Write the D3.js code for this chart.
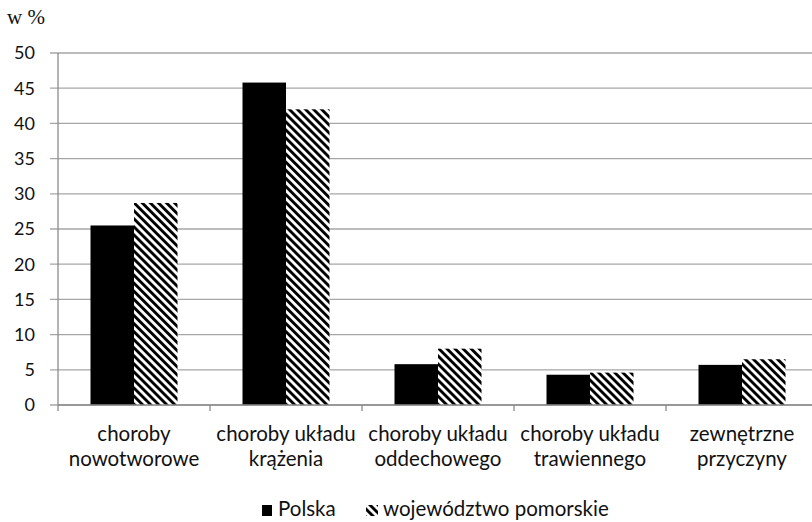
<!DOCTYPE html>
<html><head><meta charset="utf-8">
<script src="https://cdn.jsdelivr.net/npm/d3@7"></script>
<style>body{margin:0;background:#fff}</style>
</head><body>
<svg id="c" width="812" height="522"></svg>
<script>
const categories = [["choroby","nowotworowe"],["choroby układu","krążenia"],["choroby układu","oddechowego"],["choroby układu","trawiennego"],["zewnętrzne","przyczyny"]];
const seriesNames = ["Polska","województwo pomorskie"];
const polska = [25.5, 45.8, 5.8, 4.3, 5.7];
const pomorskie = [28.7, 42.0, 8.0, 4.6, 6.5];
const yTicks = [0,5,10,15,20,25,30,35,40,45,50];
const yUnit = "w %";

const svg = d3.select("#c");
const defs = svg.append("defs");
const pat = defs.append("pattern").attr("id","hatch").attr("patternUnits","userSpaceOnUse")
  .attr("width",5.7).attr("height",5.7).attr("patternTransform","rotate(-45)");
pat.append("rect").attr("width",5.7).attr("height",5.7).attr("fill","#fff");
pat.append("rect").attr("width",2.9).attr("height",5.7).attr("fill","#000");

const y = d3.scaleLinear().domain([0,50]).range([405,53]);
const x0 = d3.scaleBand().domain(d3.range(categories.length)).range([58,818]).padding(0);
const groupW = 87;
const x1 = d3.scaleBand().domain([0,1]).range([0,groupW]).padding(0);
const font = "Lato, 'Open Sans', sans-serif";

// gridlines
svg.append("g").selectAll("line").data(yTicks).join("line")
  .attr("x1",50).attr("x2",812).attr("y1",d=>y(d)).attr("y2",d=>y(d))
  .attr("stroke","#a6a6a6").attr("stroke-width",1.3);
// y labels
svg.append("g").selectAll("text").data(yTicks).join("text")
  .attr("x",35).attr("y",d=>y(d)).attr("dy","0.36em").attr("text-anchor","end")
  .attr("font-family",font).attr("font-size",18).attr("fill","#111")
  .text(d=>d);
svg.append("text").attr("x",7).attr("y",24).attr("font-family","'Liberation Serif', serif")
  .attr("font-size",21).attr("fill","#111").text(yUnit);

// bars
const data = categories.map((c,i)=>({i, vals:[polska[i], pomorskie[i]]}));
const g = svg.append("g").selectAll("g").data(data).join("g")
  .attr("transform",d=>`translate(${x0(d.i)+(x0.bandwidth()-groupW)/2},0)`);
g.selectAll("rect").data(d=>d.vals.map((v,k)=>({v,k}))).join("rect")
  .attr("x",d=>x1(d.k)).attr("width",x1.bandwidth())
  .attr("y",d=>y(d.v)).attr("height",d=>y(0)-y(d.v))
  .attr("fill",d=>d.k===0?"#000":"url(#hatch)");

// axes
svg.append("line").attr("x1",58).attr("x2",58).attr("y1",y(50)).attr("y2",y(0)+6).attr("stroke","#8c8c8c").attr("stroke-width",1.3);
svg.append("line").attr("x1",58).attr("x2",812).attr("y1",y(0)).attr("y2",y(0)).attr("stroke","#8c8c8c").attr("stroke-width",1.3);
svg.append("g").selectAll("line").data(d3.range(1,categories.length)).join("line")
  .attr("x1",d=>x0(d)).attr("x2",d=>x0(d)).attr("y1",y(0)).attr("y2",y(0)+6)
  .attr("stroke","#8c8c8c").attr("stroke-width",1.3);

// category labels
const cl = svg.append("g").selectAll("text").data(categories).join("text")
  .attr("text-anchor","middle").attr("font-family",font)
  .attr("font-size",20.5).attr("fill","#111");
cl.each(function(d,i){
  const t = d3.select(this);
  d.forEach((line,j)=>t.append("tspan").attr("x",x0(i)+x0.bandwidth()/2).attr("y",441+j*25).text(line));
});

// legend
const lg = svg.append("g").attr("font-family",font).attr("font-size",20.5).attr("fill","#111");
lg.append("rect").attr("x",262).attr("y",505).attr("width",10).attr("height",11).attr("fill","#000");
lg.append("text").attr("x",278).attr("y",516).text(seriesNames[0]);
lg.append("rect").attr("x",366).attr("y",505).attr("width",12).attr("height",11).attr("fill","url(#hatch)");
lg.append("text").attr("x",383).attr("y",516).text(seriesNames[1]);
</script>
</body></html>
